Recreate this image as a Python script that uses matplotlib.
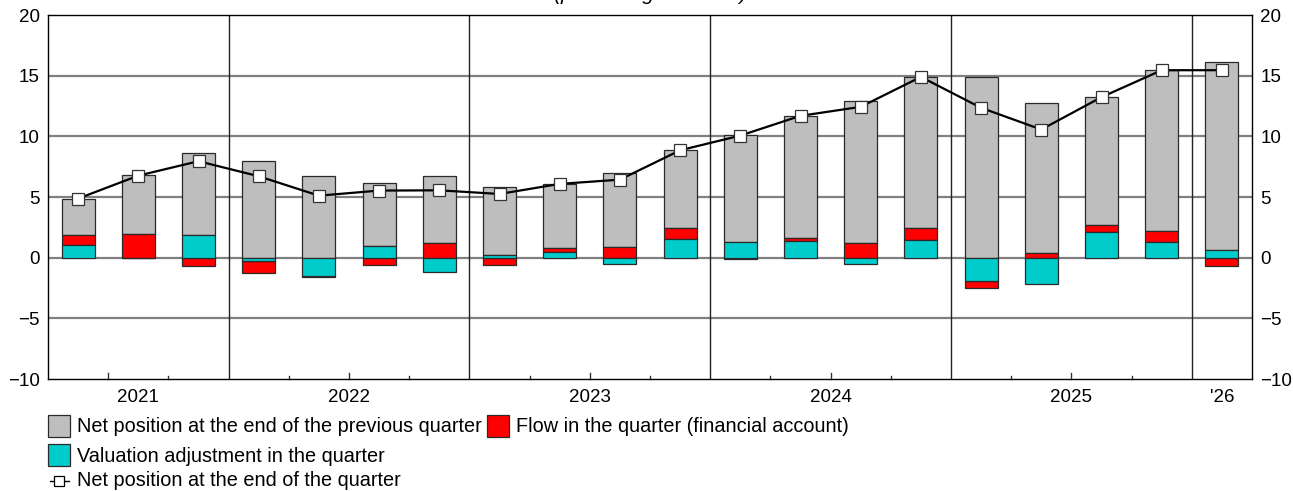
import matplotlib
matplotlib.use('Agg')
import matplotlib.pyplot as plt
from matplotlib.patches import Rectangle
from matplotlib.lines import Line2D
import numpy as np

plt.rcParams['font.family'] = ['Liberation Sans', 'DejaVu Sans']

# quarters 2021Q2 .. 2026Q1
quarters = ['2021Q2', '2021Q3', '2021Q4',
            '2022Q1', '2022Q2', '2022Q3', '2022Q4',
            '2023Q1', '2023Q2', '2023Q3', '2023Q4',
            '2024Q1', '2024Q2', '2024Q3', '2024Q4',
            '2025Q1', '2025Q2', '2025Q3', '2025Q4',
            '2026Q1']
prev_pos = [3.0, 4.87, 6.77, 7.98, 6.72, 5.2, 5.5, 5.58, 5.26, 6.08, 6.43, 8.86,
            10.1, 11.71, 12.48, 14.87, 12.35, 10.54, 13.22, 15.48]
flow = [0.8, 1.95, -0.66, -1.01, -0.08, -0.63, 1.24, -0.63, 0.33, 0.88, 0.91, -0.1,
        0.22, 1.21, 0.96, -0.58, 0.38, 0.6, 0.91, -0.66]
valuation = [1.07, -0.05, 1.87, -0.25, -1.54, 0.96, -1.18, 0.22, 0.49, -0.52, 1.51, 1.29,
             1.37, -0.49, 1.46, -1.92, -2.17, 2.09, 1.32, 0.66]
end_pos = [4.87, 6.76, 7.95, 6.71, 5.11, 5.53, 5.55, 5.25, 6.08, 6.43, 8.85, 10.06,
           11.69, 12.43, 14.9, 12.35, 10.56, 13.23, 15.45, 15.45]
year_labels = ['2021', '2022', '2023', '2024', '2025', "'26"]
year_label_pos = [1.0, 4.5, 8.5, 12.5, 16.5, 19.0]

GRAY = '#bebebe'
RED = '#ff0000'
CYAN = '#00cccc'
EDGE = '#2a2a2a'

fig = plt.figure(figsize=(12.93, 4.91), dpi=100)
ax = fig.add_axes([48 / 1293, 1 - 379 / 491, (1252 - 48) / 1293, (379 - 15) / 491])

x = np.arange(len(quarters))
w = 0.55
val = np.array(valuation)
fl = np.array(flow)
pv = np.array(prev_pos)

# positive parts stack upward: valuation, flow, then previous position
# negative parts stack downward: valuation, then flow
pos_base = np.zeros(len(x))
neg_base = np.zeros(len(x))
v_bottom = np.where(val >= 0, pos_base, neg_base)
pos_base = pos_base + np.clip(val, 0, None)
neg_base = neg_base + np.clip(val, None, 0)
f_bottom = np.where(fl >= 0, pos_base, neg_base)
pos_base = pos_base + np.clip(fl, 0, None)
neg_base = neg_base + np.clip(fl, None, 0)

ax.set_ylim(-10, 20)
ax.set_xlim(-0.5, 19.5)
for yv in [-5, 0, 5, 10, 15]:
    ax.axhline(yv, color='#808080', lw=1.6, zorder=0)
for xb in [2.5, 6.5, 10.5, 14.5, 18.5]:
    ax.axvline(xb, color='#222222', lw=1.0, zorder=0)

ax.bar(x, pv, w, bottom=pos_base, color=GRAY, edgecolor=EDGE, lw=0.9, zorder=2)
ax.bar(x, fl, w, bottom=f_bottom, color=RED, edgecolor=EDGE, lw=0.9, zorder=2)
ax.bar(x, val, w, bottom=v_bottom, color=CYAN, edgecolor=EDGE, lw=0.9, zorder=2)
ax.plot(x, end_pos, color='black', lw=1.6, marker='s', markersize=8.5,
        markerfacecolor='white', markeredgecolor='#333333', markeredgewidth=0.9, zorder=3)

ax.set_yticks([-10, -5, 0, 5, 10, 15, 20])
ax.set_yticklabels(['\u221210', '\u22125', '0', '5', '10', '15', '20'])
ax.tick_params(axis='y', length=0, labelsize=13.5, pad=6, labelright=True, right=False)
ax.set_xticks(year_label_pos)
ax.set_xticklabels(year_labels)
ax.tick_params(axis='x', length=0, labelsize=13.5, pad=7)

# inner ticks on the bottom axis: quarter boundaries small, mid-year taller
for xb in [0.5, 4.5, 8.5, 12.5, 16.5]:
    ax.plot([xb, xb], [-10, -9.5], color='#333333', lw=1, zorder=1, clip_on=False)
for xb in [1.5, 3.5, 5.5, 7.5, 9.5, 11.5, 13.5, 15.5, 17.5]:
    ax.plot([xb, xb], [-10, -9.75], color='#333333', lw=1, zorder=1, clip_on=False)

for s in ax.spines.values():
    s.set_color('black')
    s.set_linewidth(1.0)

ax.text(0.5, 1.055, '(percentage of GDP)', transform=ax.transAxes, ha='center', va='center',
        fontsize=15, style='italic')

# legend
def fx(px):
    return px / 1293

def fy(py):
    return 1 - py / 491

LFS = 14.3
fig.patches.append(Rectangle((fx(48), fy(437)), fx(22), 22 / 491, transform=fig.transFigure,
                             facecolor=GRAY, edgecolor=EDGE, lw=0.9))
fig.text(fx(77), fy(427), 'Net position at the end of the previous quarter', fontsize=LFS, va='center')
fig.patches.append(Rectangle((fx(487), fy(437)), fx(22), 22 / 491, transform=fig.transFigure,
                             facecolor=RED, edgecolor=EDGE, lw=0.9))
fig.text(fx(516), fy(427), 'Flow in the quarter (financial account)', fontsize=LFS, va='center')
fig.patches.append(Rectangle((fx(48), fy(466)), fx(22), 22 / 491, transform=fig.transFigure,
                             facecolor=CYAN, edgecolor=EDGE, lw=0.9))
fig.text(fx(77), fy(456), 'Valuation adjustment in the quarter', fontsize=LFS, va='center')
fig.lines.append(Line2D([fx(50), fx(69)], [fy(481), fy(481)], transform=fig.transFigure,
                        color='black', lw=1))
fig.lines.append(Line2D([fx(58.5)], [fy(481)], transform=fig.transFigure, marker='s',
                        markersize=7, markerfacecolor='white', markeredgecolor='black',
                        markeredgewidth=0.9, linestyle='none'))
fig.text(fx(77), fy(481), 'Net position at the end of the quarter', fontsize=LFS, va='center')

fig.savefig('out.png', dpi=100)
